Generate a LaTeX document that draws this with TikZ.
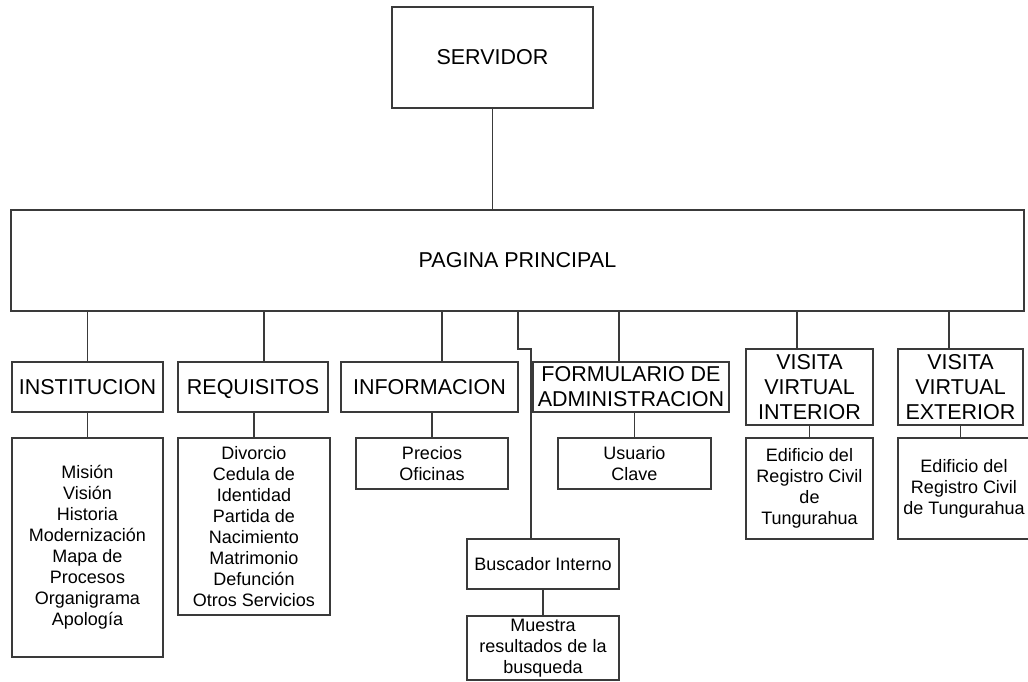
\documentclass[tikz,border=0pt]{standalone}
\usepackage{fontspec}
\setsansfont{Liberation Sans}
\definecolor{edge}{HTML}{3A3A3A}
\tikzset{box/.style={draw=edge,line width=1.3pt,align=center,inner sep=0pt,font=\sffamily\fontsize{21.5}{25}\selectfont},sub/.style={box,font=\sffamily\fontsize{18}{21}\selectfont},link/.style={draw=edge,line width=1.3pt}}
\begin{document}
\begin{tikzpicture}[x=1pt,y=-1pt]
\useasboundingbox (0,0) rectangle (1028,682);
\node[box,minimum width=201pt,minimum height=101pt] (servidor) at (492.5,57.5) {SERVIDOR};
\node[box,minimum width=1013pt,minimum height=101pt] (pagina) at (517.5,260.5) {PAGINA PRINCIPAL};
\node[box,minimum width=151pt,minimum height=50pt] (institucion) at (87.5,387) {INSTITUCION};
\node[box,minimum width=150pt,minimum height=50pt,text depth=0pt] (requisitos) at (253,387) {REQUISITOS};
\node[box,minimum width=177pt,minimum height=50pt] (informacion) at (429.5,387) {INFORMACION};
\node[box,minimum width=196pt,minimum height=50pt] (formulario) at (631,387) {FORMULARIO DE\\ADMINISTRACION};
\node[box,minimum width=127pt,minimum height=76pt] (interior) at (809.5,387) {VISITA\\VIRTUAL\\INTERIOR};
\node[box,minimum width=125pt,minimum height=76pt] (exterior) at (960.5,387) {VISITA\\VIRTUAL\\EXTERIOR};
\node[sub,minimum width=151pt,minimum height=219pt] (mision) at (87.5,547.5) {Misión\\Visión\\Historia\\Modernización\\Mapa de\\Procesos\\Organigrama\\Apología};
\node[sub,minimum width=152pt,minimum height=177pt] (tramites) at (254,526.5) {Divorcio\\Cedula de\\Identidad\\Partida de\\Nacimiento\\Matrimonio\\Defunción\\Otros Servicios};
\node[sub,minimum width=152pt,minimum height=51pt] (precios) at (432,463.5) {Precios\\Oficinas};
\node[sub,minimum width=153pt,minimum height=51pt] (usuario) at (634.5,463.5) {Usuario\\Clave};
\node[sub,minimum width=127pt,minimum height=101pt] (edifint) at (809.5,488.5) {Edificio del\\Registro Civil\\de\\Tungurahua};
\node[sub,minimum width=132pt,minimum height=101pt] (edifext) at (964,488.5) {Edificio del\\Registro Civil\\de Tungurahua};
\node[sub,minimum width=152pt,minimum height=50pt] (buscador) at (543,564) {Buscador Interno};
\node[sub,minimum width=152pt,minimum height=64pt] (muestra) at (543,648) {Muestra\\resultados de la\\busqueda};
\coordinate (codo) at (518,349);
\draw[link] (servidor.south)--(servidor.south |- pagina.north);
\draw[link] (institucion.north)--(institucion.north |- pagina.south); \draw[link] ([xshift=11pt]requisitos.north)--([xshift=11pt]requisitos.north |- pagina.south); \draw[link] ([xshift=12.5pt]informacion.north)--([xshift=12.5pt]informacion.north |- pagina.south);
\draw[link] ([xshift=-12pt]formulario.north)--([xshift=-12pt]formulario.north |- pagina.south); \draw[link] ([xshift=-12.5pt]interior.north)--([xshift=-12.5pt]interior.north |- pagina.south); \draw[link] ([xshift=-11.5pt]exterior.north)--([xshift=-11.5pt]exterior.north |- pagina.south);
\draw[link] (institucion)--(mision); \draw[link] (tramites.north)--(tramites.north |- requisitos.south); \draw[link] (precios.north)--(precios.north |- informacion.south); \draw[link] (usuario.north)--(usuario.north |- formulario.south);
\draw[link] (interior)--(edifint); \draw[link] (exterior.south)--(exterior.south |- edifext.north);
\draw[link] (codo |- pagina.south)--(codo)-|([xshift=-12pt]buscador.north); \draw[link] (buscador)--(muestra);
\end{tikzpicture}
\end{document}
